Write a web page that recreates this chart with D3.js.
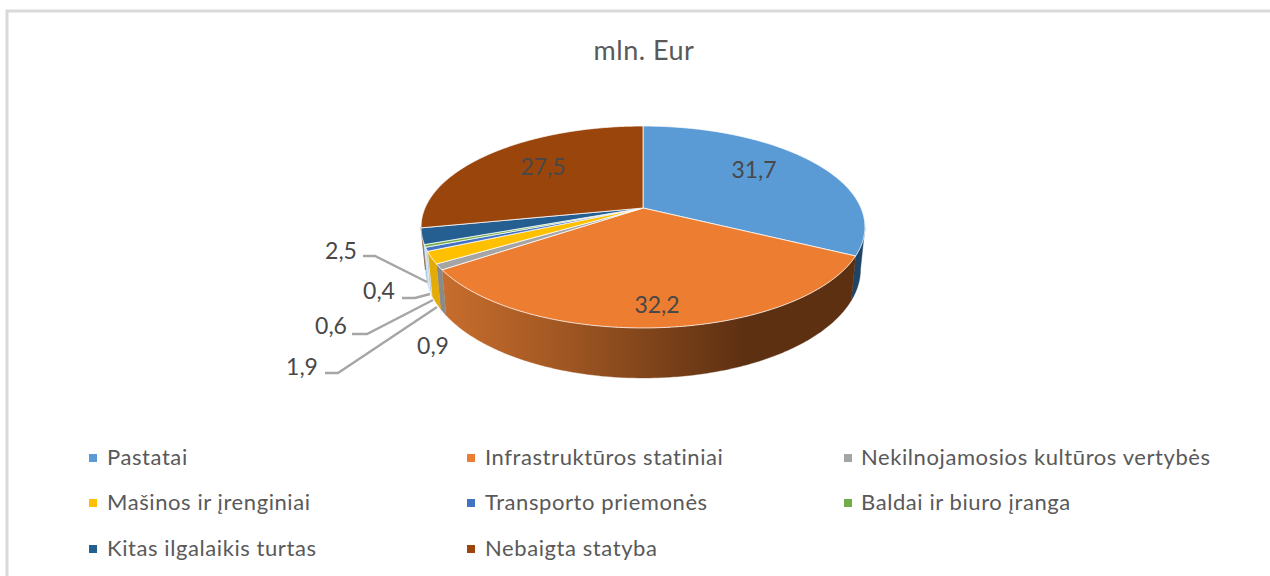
<!DOCTYPE html>
<html><head><meta charset="utf-8">
<script src="https://cdn.jsdelivr.net/npm/d3@7"></script>
<style>html,body{margin:0;padding:0;background:#fff;overflow:hidden}svg{display:block}text{font-family:Lato,"Open Sans",sans-serif}</style>
</head><body><svg id="c" width="1270" height="576"></svg>
<script>
// Data
const categories = ["Pastatai","Infrastruktūros statiniai","Nekilnojamosios kultūros vertybės","Mašinos ir įrenginiai","Transporto priemonės","Baldai ir biuro įranga","Kitas ilgalaikis turtas","Nebaigta statyba"];
const values = [31.7,32.2,0.9,1.9,0.6,0.4,2.5,27.5];
const valueLabels = ["31,7","32,2","0,9","1,9","0,6","0,4","2,5","27,5"];
const title = "mln. Eur";
// Styles
const colors = ["#5b9bd5","#ed7d31","#a5a5a5","#ffc000","#4472c4","#70ad47","#255e91","#9a450c"];
const wallColors = ["#1f4466","url(#wallOrange)","#8a8a8a","#e3ab04","#a9c4de","#b9cfe6","#9dbcdc","#7a3a0c"];
// Layout
const labelPos = [[754,170],[657,305],[433,346],[302,367],[331,326],[379,291],[341,251],[543,167]];
const leaders = {3:[[325,373],[338,373],[437,307]],4:[[352,334],[367,334],[433,300]],5:[[402,298],[415,298],[430,294]],6:[[363,256],[375,256],[427,282]]};
const legendCols=[93,471,848], legendRows=[458,503,549];

const svg=d3.select("#c");
const defs=svg.append("defs");
const g=defs.append("linearGradient").attr("id","wallOrange").attr("gradientUnits","userSpaceOnUse").attr("x1",443).attr("x2",860).attr("y1",0).attr("y2",0);
[[0,"#c76d2d"],[.25,"#a65a24"],[.5,"#7f441a"],[.72,"#5e3012"],[1,"#5e3012"]].forEach(s=>g.append("stop").attr("offset",s[0]).attr("stop-color",s[1]));

svg.append("path").attr("d","M7,576V11H1270").attr("fill","none").attr("stroke","#d9d9d9").attr("stroke-width",3);

svg.append("text").attr("x",644).attr("y",60).attr("text-anchor","middle").attr("font-size",27).attr("letter-spacing",0.5).attr("fill","#595959").text(title);

// perspective pie projection
const cx=643,cy=208,p=0.188,a=97.4,b=218,depth=40.6,shrink=0.98;
function proj(t,r=1,low=false){
  const u=r*Math.sin(t),v=r*Math.cos(t),w=1+p*v;
  const x=b*u/w,y=-a*v/w;
  return low?[cx+x*shrink,cy+y+depth/w]:[cx+x,cy+y];
}
const pie=d3.pie().sort(null).value(d=>d)(values);
const line=d3.line();
const arcPts=(s,e,low)=>{const n=Math.max(2,Math.ceil((e-s)/0.01));return d3.range(n+1).map(i=>proj(s+(e-s)*i/n,1,low));};
const tL=Math.acos(-p), tR=2*Math.PI-tL;

const walls=svg.append("g");
pie.forEach((d,i)=>{
  const s=Math.max(d.startAngle,tL),e=Math.min(d.endAngle,tR);
  if(e<=s)return;
  walls.append("path").attr("d",line([...arcPts(s,e,false),...arcPts(s,e,true).reverse()])+"Z")
    .attr("fill",wallColors[i]).attr("stroke",i>=4&&i<=6?"#dfe8f2":wallColors[i]).attr("stroke-width",i>=4&&i<=6?0.8:0.4);
});
const tops=svg.append("g");
pie.forEach((d,i)=>{
  tops.append("path").attr("d",line([[cx,cy],...arcPts(d.startAngle,d.endAngle,false)])+"Z")
   .attr("fill",colors[i]).attr("stroke","#fff").attr("stroke-opacity",.75).attr("stroke-width",1).attr("stroke-linejoin","round");
});
// leaders
Object.entries(leaders).forEach(([k,pts])=>svg.append("path").attr("d",line(pts)).attr("fill","none").attr("stroke","#a6a6a6").attr("stroke-width",2.4));
// labels
svg.append("g").selectAll("text").data(valueLabels).join("text")
  .attr("x",(d,i)=>labelPos[i][0]).attr("y",(d,i)=>labelPos[i][1]+8).attr("text-anchor","middle")
  .attr("font-size",23).attr("fill","#484848").text(d=>d);
// legend
const order=[[0,0],[1,0],[2,0],[0,1],[1,1],[2,1],[0,2],[1,2]];
const lg=svg.append("g").selectAll("g").data(categories).join("g")
  .attr("transform",(d,i)=>`translate(${legendCols[order[i][0]]},${legendRows[order[i][1]]})`);
lg.append("rect").attr("x",-4).attr("y",-4).attr("width",8).attr("height",8).attr("fill",(d,i)=>colors[i]);
lg.append("text").attr("x",(d,i)=>[14,14,13][order[i][0]]).attr("y",7).attr("font-size",22).attr("letter-spacing",0.58).attr("fill","#595959").text(d=>d);
</script></body></html>
